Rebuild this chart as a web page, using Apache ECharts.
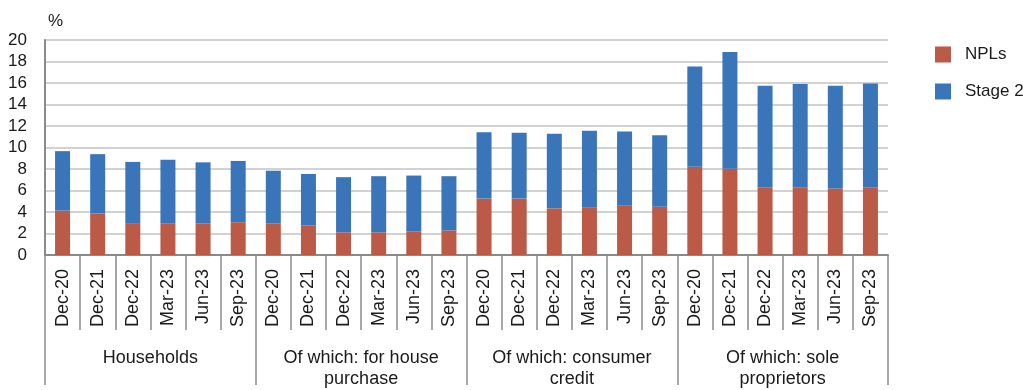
<!DOCTYPE html>
<html><head><meta charset="utf-8">
<script src="https://cdn.jsdelivr.net/npm/echarts@6/dist/echarts.min.js"></script>
<style>html,body{margin:0;padding:0;background:#fff}#c{width:1023px;height:390px}</style>
</head><body><div id="c"></div>
<script>
var categories = ['Dec-20','Dec-21','Dec-22','Mar-23','Jun-23','Sep-23',
  'Dec-20','Dec-21','Dec-22','Mar-23','Jun-23','Sep-23',
  'Dec-20','Dec-21','Dec-22','Mar-23','Jun-23','Sep-23',
  'Dec-20','Dec-21','Dec-22','Mar-23','Jun-23','Sep-23'];
var groups = ['Households','Of which: for house\npurchase','Of which: consumer\ncredit','Of which: sole\nproprietors'];
var npl = [4.13,3.86,2.9,2.9,2.92,3.05, 2.92,2.74,2.11,2.11,2.17,2.29, 5.25,5.25,4.34,4.4,4.58,4.49, 8.2,8.03,6.3,6.3,6.18,6.3];
var stage2 = [5.53,5.52,5.76,5.97,5.7,5.7, 4.92,4.8,5.13,5.22,5.22,5.04, 6.18,6.12,6.94,7.15,6.91,6.64, 9.33,10.86,9.45,9.6,9.57,9.66];
var yTicks = [0,2,4,6,8,10,12,14,16,18,20];

var chart = echarts.init(document.getElementById('c'));
var txt = '#1a1a1a', font = '"Liberation Sans", Arial, sans-serif';
chart.setOption({
  animation: false,
  grid: {left: 45, right: 135, top: 40, bottom: 128},
  legend: {
    orient: 'vertical', left: 930, top: 41, itemWidth: 16, itemHeight: 16, itemGap: 20,
    icon: 'rect',
    textStyle: {fontSize: 17, color: txt, fontFamily: font, padding: [0,0,0,9]},
    data: ['NPLs','Stage 2']
  },
  xAxis: [{
    type: 'category', data: categories, position: 'bottom',
    axisLine: {lineStyle: {color: '#8a8a8a', width: 2}},
    axisTick: {show: true, interval: 0, length: 75, lineStyle: {color: '#8a8a8a', width: 1.5}},
    axisLabel: {interval: 0, rotate: 90, margin: 14, fontSize: 18, color: txt, fontFamily: font}
  },{
    type: 'category', data: groups, position: 'bottom',
    axisLine: {show: false},
    axisTick: {show: true, interval: 0, length: 130, lineStyle: {color: '#8a8a8a', width: 1.5}},
    axisLabel: {interval: 0, margin: 93, fontSize: 18, lineHeight: 21, color: txt, fontFamily: font, verticalAlign: 'top'}
  }],
  yAxis: {
    type: 'value', min: yTicks[0], max: yTicks[yTicks.length-1], interval: 2,
    name: '%', nameGap: 10, nameTextStyle: {align: 'left', fontSize: 17, color: txt, fontFamily: font, padding: [0,0,0,3]},
    axisLine: {show: true, lineStyle: {color: '#8a8a8a', width: 2}},
    axisTick: {show: false},
    axisLabel: {margin: 18, fontSize: 17, color: txt, fontFamily: font},
    splitLine: {lineStyle: {color: '#d2d2d2', width: 2}}
  },
  series: [
    {name: 'NPLs', type: 'bar', stack: 'a', data: npl, barWidth: 15, itemStyle: {color: '#BA5A47'}},
    {name: 'Stage 2', type: 'bar', stack: 'a', data: stage2, barWidth: 15, itemStyle: {color: '#3A75BA'}}
  ]
});
</script></body></html>
